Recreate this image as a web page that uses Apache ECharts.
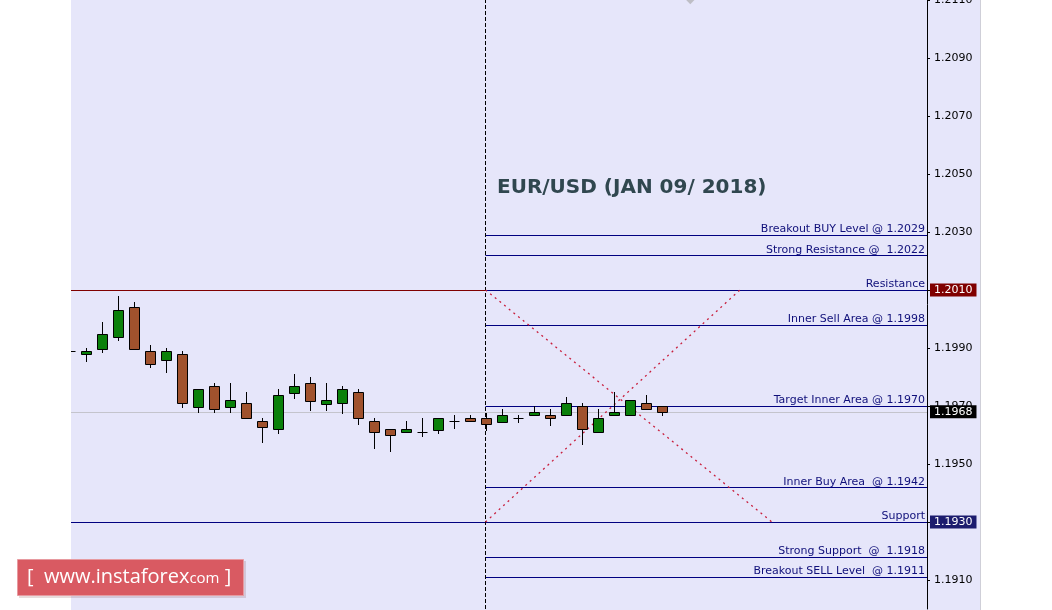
<!DOCTYPE html>
<html>
<head>
<meta charset="utf-8">
<script src="https://cdn.jsdelivr.net/npm/echarts@6/dist/echarts.min.js"></script>
<style>html,body{margin:0;padding:0;background:#fff;}#c{width:1052px;height:610px;}</style>
</head>
<body>
<div id="c"></div>
<script>
// ---- data ----
var candleIndex = [0,1,2,3,4,5,6,7,8,9,10,11,12,13,14,15,16,17,18,19,20,21,22,23,24,25,26,27,28,29,30,31,32,33,34,35,36,37];
var openVals  = [1.19890,1.19878,1.19898,1.19939,1.20041,1.19890,1.19858,1.19878,1.19698,1.19768,1.19698,1.19709,1.19647,1.19620,1.19746,1.19778,1.19708,1.19709,1.19747,1.19647,1.19620,1.19609,1.19610,1.19618,1.19647,1.19658,1.19658,1.19646,1.19658,1.19668,1.19668,1.19668,1.19699,1.19609,1.19668,1.19668,1.19709,1.19699];
var closeVals = [1.19890,1.19890,1.19948,1.20030,1.19898,1.19846,1.19890,1.19709,1.19758,1.19689,1.19721,1.19658,1.19627,1.19737,1.19769,1.19718,1.19720,1.19758,1.19658,1.19609,1.19599,1.19620,1.19610,1.19658,1.19647,1.19647,1.19637,1.19668,1.19658,1.19678,1.19658,1.19709,1.19620,1.19658,1.19678,1.19720,1.19689,1.19678];
var lowVals   = [1.19885,1.19856,1.19887,1.19928,1.19897,1.19836,1.19818,1.19698,1.19678,1.19678,1.19678,1.19658,1.19577,1.19608,1.19729,1.19686,1.19686,1.19677,1.19637,1.19556,1.19546,1.19609,1.19598,1.19608,1.19625,1.19647,1.19618,1.19646,1.19646,1.19668,1.19636,1.19668,1.19568,1.19609,1.19668,1.19668,1.19689,1.19668];
var highVals  = [1.19895,1.19899,1.19990,1.20079,1.20059,1.19909,1.19900,1.19890,1.19758,1.19778,1.19778,1.19748,1.19659,1.19759,1.19810,1.19800,1.19778,1.19769,1.19758,1.19658,1.19620,1.19648,1.19658,1.19658,1.19669,1.19669,1.19677,1.19689,1.19668,1.19699,1.19689,1.19731,1.19709,1.19689,1.19748,1.19720,1.19738,1.19699];

var yTickValues = [1.1910,1.1930,1.1950,1.1970,1.1990,1.2010,1.2030,1.2050,1.2070,1.2090,1.2110];

var levelNames  = ['Breakout BUY Level @ 1.2029','Strong Resistance @  1.2022','Resistance','Inner Sell Area @ 1.1998','Target Inner Area @ 1.1970','Inner Buy Area  @ 1.1942','Support','Strong Support  @  1.1918','Breakout SELL Level  @ 1.1911'];
var levelValues = [1.2029,1.2022,1.2010,1.1998,1.1970,1.1942,1.1930,1.1918,1.1911];
var levelStartIndex = 26;

var resistanceValue = 1.2010;
var supportValue = 1.1930;
var lastPrice = 1.1968;
var crossDownEnd = [43.9, 1.1930];
var crossUpEnd = [41.9, 1.2010];
var markerPoint = [38.8, 1.21103];

var title = 'EUR/USD (JAN 09/ 2018)';

// ---- chart ----
var X_MIN = 0.09375, X_MAX = 53.59375;
var chart = echarts.init(document.getElementById('c'), null, {renderer: 'canvas'});

var candleData = candleIndex.map(function (x, i) {
  return [x, openVals[i], closeVals[i], lowVals[i], highVals[i]];
});

function renderCandle(params, api) {
  var x = api.value(0), o = api.value(1), c = api.value(2), l = api.value(3), h = api.value(4);
  var pO = api.coord([x, o]), pC = api.coord([x, c]), pL = api.coord([x, l]), pH = api.coord([x, h]);
  var cx = Math.round(pO[0]) + 0.5;
  var top = Math.round(Math.min(pO[1], pC[1])) + 0.5;
  var bot = Math.round(Math.max(pO[1], pC[1])) + 0.5;
  var children = [{
    type: 'line',
    shape: {x1: cx, y1: Math.round(pH[1]), x2: cx, y2: Math.round(pL[1]) + 1},
    style: {stroke: '#000', lineWidth: 1}
  }];
  if (bot - top < 1) {
    children.push({
      type: 'line',
      shape: {x1: cx - 5, y1: top, x2: cx + 5, y2: top},
      style: {stroke: '#000', lineWidth: 1}
    });
  } else {
    children.push({
      type: 'rect',
      shape: {x: cx - 5, y: top, width: 10, height: bot - top},
      style: {fill: c > o ? '#0a800a' : '#a0522d', stroke: '#000', lineWidth: 1}
    });
  }
  return {type: 'group', children: children};
}

var levelLines = levelValues.map(function (v, i) {
  return [
    {coord: [levelStartIndex, v]},
    {coord: [X_MAX, v], label: {
      show: true, position: 'insideEndTop', formatter: levelNames[i],
      color: '#10107a', fontFamily: 'DejaVu Sans', fontSize: 11, distance: [2, 0]
    }}
  ];
});

function priceBox(v, color, bg) {
  return [
    {coord: [X_MIN, v], lineStyle: {color: color, type: 'solid', width: 1}},
    {coord: [X_MAX, v], label: {
      show: true, position: 'end', formatter: v.toFixed(4),
      color: '#fff', backgroundColor: bg, fontFamily: 'DejaVu Sans', fontSize: 11,
      padding: [1, 4, 1, 4], distance: 3
    }}
  ];
}

var option = {
  animation: false,
  backgroundColor: '#ffffff',
  grid: {left: 71, right: 125, top: 0, bottom: 1, containLabel: false, outerBoundsMode: 'none'},
  xAxis: {
    type: 'value', min: X_MIN, max: X_MAX, show: false
  },
  yAxis: {
    type: 'value', position: 'right', min: 1.1900, max: 1.2110, scale: true,
    splitLine: {show: false},
    axisLine: {show: true, lineStyle: {color: '#000', width: 1}},
    axisTick: {show: true, inside: false, length: 3, customValues: yTickValues, lineStyle: {color: '#000'}},
    axisLabel: {
      customValues: yTickValues, margin: 7, color: '#000', fontFamily: 'DejaVu Sans', fontSize: 11,
      formatter: function (v) { return v.toFixed(4); }
    }
  },
  graphic: [
    {type: 'rect', z: -10, shape: {x: 71, y: 0, width: 909, height: 610}, style: {fill: '#e6e6fa'}, silent: true},
    {type: 'line', z: -9, shape: {x1: 980.5, y1: 0, x2: 980.5, y2: 610}, style: {stroke: '#cfcfd8', lineWidth: 1}, silent: true},
    {type: 'text', z: 50, left: 497, top: 178, style: {
      text: title, fill: '#30474f', font: 'bold 20px "DejaVu Sans", Verdana, sans-serif'
    }},
    {type: 'group', z: 100, left: 17, top: 559, children: [
      {type: 'rect', z: 100, shape: {x: 2, y: 2, width: 227, height: 37}, style: {fill: 'rgba(120,60,60,0.18)'}},
      {type: 'rect', z: 101, shape: {x: 0.5, y: 0.5, width: 226, height: 36}, style: {fill: '#d95a62', stroke: '#e79aa0', lineWidth: 1}},
      {type: 'text', z: 102, x: 10, y: 18, style: {
        text: '{a|[  www.instaforex}{b|com}{a| ]}',
        verticalAlign: 'middle',
        rich: {
          a: {fill: '#ffffff', fontFamily: 'Open Sans', fontSize: 20},
          b: {fill: '#ffffff', fontFamily: 'Open Sans', fontSize: 15, padding: [3, 0, 0, 0]}
        }
      }}
    ]}
  ],
  series: [
    {
      type: 'line', name: 'levels', data: [], z: 1, silent: true,
      markLine: {
        silent: true, symbol: ['none', 'none'], animation: false,
        lineStyle: {color: '#000080', type: 'solid', width: 1},
        label: {show: false},
        data: [
          priceBox(resistanceValue, '#800000', '#800000'),
          priceBox(lastPrice, '#c4c4cc', '#000000'),
          priceBox(supportValue, '#000080', '#1c1c6e')
        ].concat(levelLines).concat([
          [{coord: [levelStartIndex, 1.1900], lineStyle: {color: '#000', type: [4, 2], width: 1}, label: {show: false}},
           {coord: [levelStartIndex, 1.2110]}],
          [{coord: [levelStartIndex, resistanceValue], lineStyle: {color: '#c81e3c', type: [2, 4], width: 1.3}, label: {show: false}},
           {coord: crossDownEnd}],
          [{coord: [levelStartIndex, supportValue], lineStyle: {color: '#c81e3c', type: [2, 4], width: 1.3}, label: {show: false}},
           {coord: crossUpEnd}]
        ])
      }
    },
    {
      type: 'custom', name: 'EURUSD', z: 5, clip: true,
      renderItem: renderCandle,
      encode: {x: 0, y: [1, 2, 3, 4]},
      data: candleData
    },
    {
      type: 'scatter', name: 'marker', clip: false, symbol: 'diamond', symbolSize: [10, 10],
      itemStyle: {color: '#b4b4b8'}, data: [markerPoint], z: 3, silent: true
    }
  ]
};
chart.setOption(option);
</script>
</body>
</html>
